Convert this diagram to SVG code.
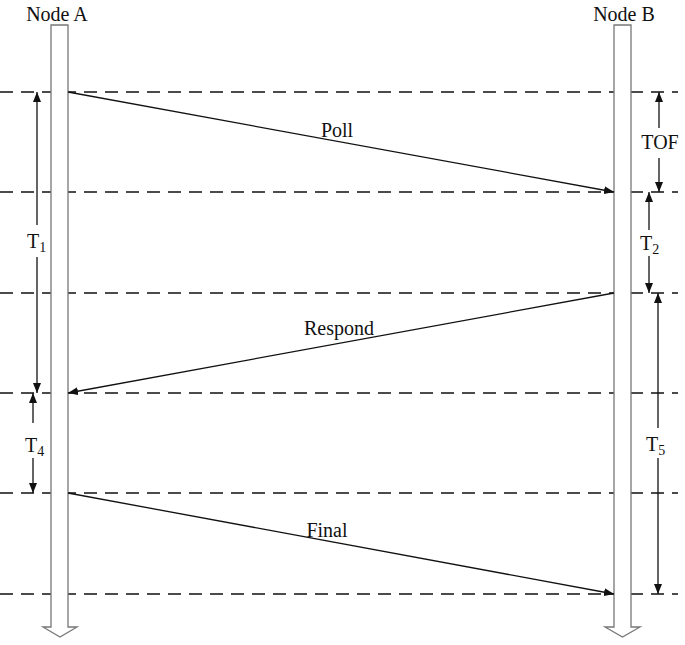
<svg xmlns="http://www.w3.org/2000/svg" width="685" height="645" viewBox="0 0 685 645">
<style>
.t{font-family:'Liberation Serif','DejaVu Serif',serif;font-size:20px;fill:#111}
.sub{font-size:14px}
.dash{stroke:#111;stroke-width:1.6;stroke-dasharray:13 8;fill:none}
.bar{fill:#fff;stroke:#777;stroke-width:1.3}
.msg{stroke:#111;stroke-width:1.3;fill:none;marker-end:url(#ah)}
.dim{stroke:#111;stroke-width:1.3;fill:none;marker-end:url(#ah)}
</style>
<defs>
<marker id="ah" viewBox="0 0 10 8" refX="10" refY="4" markerWidth="10" markerHeight="8" markerUnits="userSpaceOnUse" orient="auto">
<path d="M0,0 L10,4 L0,8 Z" fill="#111"/>
</marker>
</defs>
<g id="grid">
<line class="dash" x1="0" y1="92" x2="678" y2="92"/>
<line class="dash" x1="0" y1="192" x2="678" y2="192"/>
<line class="dash" x1="0" y1="293" x2="678" y2="293"/>
<line class="dash" x1="0" y1="393" x2="678" y2="393"/>
<line class="dash" x1="0" y1="493" x2="678" y2="493"/>
<line class="dash" x1="0" y1="594" x2="678" y2="594"/>
</g>
<g id="nodeA">
<path class="bar" d="M51,25 H68 V627 H77 L60,637 L43,627 H51 Z"/>
<text class="t" font-family="Liberation Serif, serif" x="57" y="21" text-anchor="middle">Node A</text>
</g>
<g id="nodeB">
<path class="bar" d="M614,25 H631 V627 H640 L622.5,637 L605,627 H614 Z"/>
<text class="t" font-family="Liberation Serif, serif" x="624" y="21" text-anchor="middle">Node B</text>
</g>
<g id="connectors">
<line class="msg" x1="68" y1="92" x2="614" y2="192"/>
<line class="msg" x1="614" y1="293" x2="68" y2="393"/>
<line class="msg" x1="68" y1="493" x2="614" y2="594"/>
<line class="dim" x1="37" y1="225" x2="37" y2="92"/>
<line class="dim" x1="37" y1="257" x2="37" y2="393"/>
<line class="dim" x1="33" y1="423" x2="33" y2="393"/>
<line class="dim" x1="33" y1="458" x2="33" y2="493"/>
<line class="dim" x1="659" y1="128" x2="659" y2="92"/>
<line class="dim" x1="659" y1="158" x2="659" y2="192"/>
<line class="dim" x1="649" y1="230" x2="649" y2="192"/>
<line class="dim" x1="649" y1="256" x2="649" y2="293"/>
<line class="dim" x1="658" y1="428" x2="658" y2="293"/>
<line class="dim" x1="658" y1="458" x2="658" y2="594"/>
</g>
<g id="labels">
<text class="t" font-family="Liberation Serif, serif" x="337" y="137" text-anchor="middle">Poll</text>
<text class="t" font-family="Liberation Serif, serif" x="339" y="335" text-anchor="middle">Respond</text>
<text class="t" font-family="Liberation Serif, serif" x="327" y="537" text-anchor="middle">Final</text>
<text class="t" font-family="Liberation Serif, serif" x="660" y="149" text-anchor="middle">TOF</text>
<text class="t" font-family="Liberation Serif, serif" x="27" y="248">T<tspan class="sub" dy="4">1</tspan></text>
<text class="t" font-family="Liberation Serif, serif" x="25" y="452">T<tspan class="sub" dy="4">4</tspan></text>
<text class="t" font-family="Liberation Serif, serif" x="640" y="250">T<tspan class="sub" dy="4">2</tspan></text>
<text class="t" font-family="Liberation Serif, serif" x="646" y="451">T<tspan class="sub" dy="4">5</tspan></text>
</g>
</svg>
